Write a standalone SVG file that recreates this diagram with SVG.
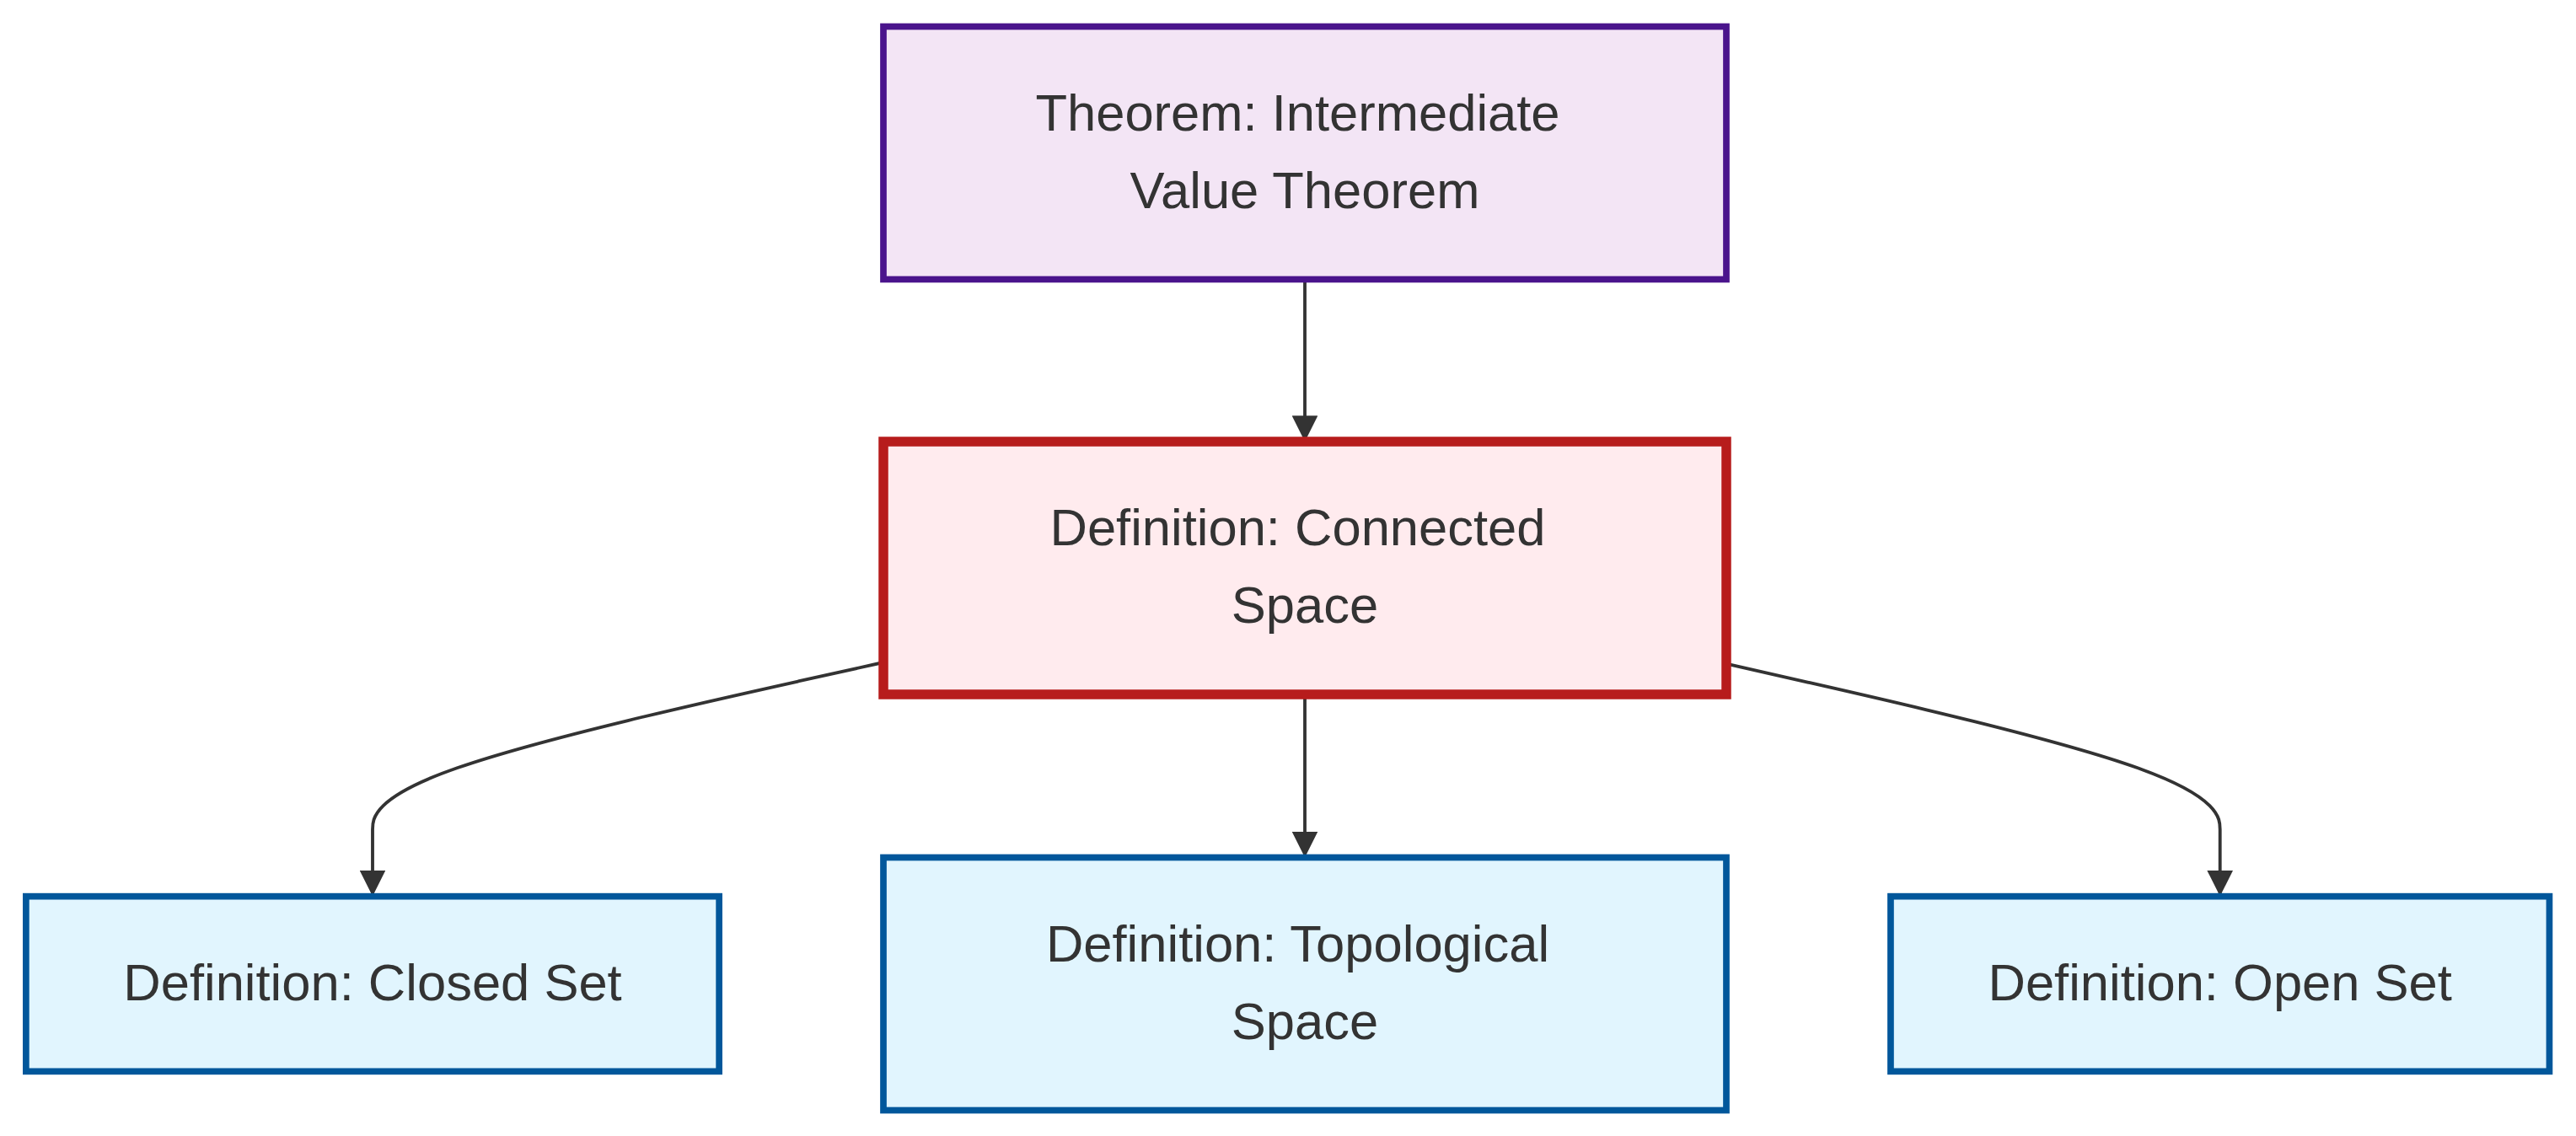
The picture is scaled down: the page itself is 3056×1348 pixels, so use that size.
<svg xmlns="http://www.w3.org/2000/svg" width="3056" height="1348" viewBox="0 0 3056 1348">
<defs>
<marker id="arrow" viewBox="0 0 10 10" refX="10" refY="5" markerUnits="userSpaceOnUse" markerWidth="30.77" markerHeight="30.77" orient="auto">
<path d="M0,0 L10,5 L0,10 z" fill="#333333"/>
</marker>
<style>
.edge{fill:none;stroke:#333333;stroke-width:3.85;marker-end:url(#arrow);}
.lbl{font-family:"Liberation Sans",Arial,sans-serif;font-size:61.5px;fill:#333333;text-anchor:middle;}
.thm{fill:#f3e5f5;stroke:#4a148c;stroke-width:7.7;}
.main{fill:#ffebee;stroke:#b71c1c;stroke-width:11.5;}
.def{fill:#e1f5fe;stroke:#01579b;stroke-width:7.7;}
</style>
</defs>
<rect x="0" y="0" width="3056" height="1348" fill="#ffffff"/>
<g id="connectors">
<path class="edge" d="M1548,331.5 L1548,524"/>
<path class="edge" d="M1548,824 L1548,1017.5"/>
<path class="edge" d="M1048,786 L947,808.46 C846,830.92 644,875.83 543,911 C442,946.17 442,971.58 442,984.29 L442,1063.6"/>
<path class="edge" d="M2048,787.6 L2145.6,809.8 C2243.2,832 2438.5,876.4 2536.1,911.3 C2633.7,946.2 2633.7,971.6 2633.7,984.3 L2633.7,1063.6"/>
</g>
<g id="node-ivt">
<rect class="thm" x="1048" y="31.5" width="1000" height="300"/>
<text class="lbl" x="1539.5" y="154.65">Theorem: Intermediate</text>
<text class="lbl" x="1548" y="246.95">Value Theorem</text>
</g>
<g id="node-connected">
<rect class="main" x="1048" y="524" width="1000" height="300"/>
<text class="lbl" x="1539.5" y="647.15">Definition: Connected</text>
<text class="lbl" x="1548" y="739.45">Space</text>
</g>
<g id="node-closed">
<rect class="def" x="30.85" y="1063.65" width="822.3" height="207.7"/>
<text class="lbl" x="442" y="1186.8">Definition: Closed Set</text>
</g>
<g id="node-topological">
<rect class="def" x="1048" y="1017.5" width="1000" height="300"/>
<text class="lbl" x="1539.5" y="1140.65">Definition: Topological</text>
<text class="lbl" x="1548" y="1232.95">Space</text>
</g>
<g id="node-open">
<rect class="def" x="2242.95" y="1063.65" width="781.5" height="207.7"/>
<text class="lbl" x="2633.7" y="1186.8">Definition: Open Set</text>
</g>
</svg>
